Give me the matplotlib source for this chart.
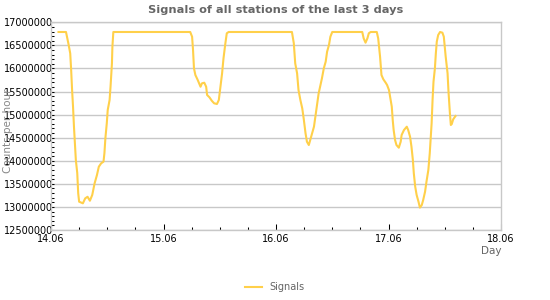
import matplotlib
matplotlib.use('Agg')
import matplotlib.pyplot as plt
from matplotlib.ticker import MultipleLocator, FixedLocator

# hours since 14.06 00:00, counts per hour
hours = [1.6, 3.2, 3.7, 4.1, 4.3, 4.5, 4.7, 4.9, 5.1, 5.3, 5.6, 5.8, 6.0, 6.8, 7.3,
         7.8, 8.3, 8.8, 9.3, 9.8, 10.2, 10.7, 11.2, 11.4, 11.6, 11.9, 12.1, 12.5,
         12.7, 13.0, 13.1, 13.3, 29.7, 30.1, 30.3, 30.5, 30.8, 31.3, 31.6, 31.9,
         32.2, 32.7, 33.1, 33.3, 33.8, 34.3, 34.8, 35.4, 35.8, 36.1, 36.5, 36.8,
         37.2, 37.5, 37.9, 51.4, 51.8, 52.1, 52.5, 52.8, 53.2, 53.6, 53.9, 54.3,
         54.6, 55.0, 55.3, 55.7, 56.1, 56.4, 56.8, 57.1, 57.5, 57.8, 58.2, 58.6,
         58.9, 59.3, 59.6, 60.0, 66.4, 66.7, 67.1, 67.5, 67.8, 68.2, 69.5, 69.8,
         70.2, 70.5, 70.9, 71.4, 71.7, 72.1, 72.4, 72.7, 72.9, 73.1, 73.4, 73.7,
         74.2, 74.6, 74.8, 75.3, 75.9, 76.2, 76.6, 76.9, 77.2, 77.4, 77.7, 78.0,
         78.4, 78.7, 79.1, 79.4, 79.8, 80.1, 80.5, 80.8, 81.0, 81.2, 81.4, 81.6,
         81.9, 82.1, 82.3, 82.6, 83.0, 83.5, 83.8, 84.2, 84.6, 84.8, 85.1, 85.3,
         85.5, 85.8, 86.3]
counts = [16790000, 16790000, 16545000, 16328000, 15967000, 15533000, 15171000,
          14738000, 14380000, 14016000, 13735000, 13300000, 13113000, 13078000,
          13186000, 13220000, 13134000, 13260000, 13510000, 13690000, 13871000,
          13945000, 13980000, 14167000, 14486000, 14812000, 15100000, 15316000,
          15604000, 16110000, 16471000, 16790000, 16790000, 16688000, 16400000,
          16003000, 15858000, 15750000, 15678000, 15604000, 15678000, 15691000,
          15604000, 15425000, 15375000, 15301000, 15245000, 15230000, 15316000,
          15570000, 15895000, 16220000, 16545000, 16762000, 16790000, 16790000,
          16545000, 16110000, 15895000, 15533000, 15316000, 15136000, 14920000,
          14595000, 14413000, 14341000, 14450000, 14595000, 14738000, 14955000,
          15245000, 15461000, 15641000, 15786000, 16003000, 16147000, 16363000,
          16508000, 16688000, 16790000, 16790000, 16653000, 16558000, 16653000,
          16762000, 16790000, 16790000, 16653000, 16256000, 15858000, 15765000,
          15691000, 15641000, 15533000, 15353000, 15171000, 14883000, 14666000,
          14450000, 14341000, 14283000, 14413000, 14558000, 14666000, 14738000,
          14666000, 14521000, 14305000, 14016000, 13728000, 13437000, 13260000,
          13113000, 12985000, 13041000, 13150000, 13330000, 13546000, 13800000,
          14161000, 14486000, 14812000, 15316000, 15713000, 16003000, 16328000,
          16580000, 16725000, 16790000, 16775000, 16688000, 16256000, 15895000,
          15497000, 15028000, 14775000, 14796000, 14898000, 14970000]

day_ticks = [14, 15, 16, 17, 18]
day_labels = ['14.06', '15.06', '16.06', '17.06', '18.06']

days = [14 + h / 24 for h in hours]

fig = plt.figure(figsize=(5.5, 3), dpi=100)
ax = fig.add_axes([51 / 550, 70 / 300, 450 / 550, 207.7 / 300])

ax.plot(days, counts, color='#ffd04a', lw=1.5, label='Signals')

ax.set_xlim(14, 18)
ax.set_ylim(12500000, 17000000)
ax.xaxis.set_major_locator(FixedLocator(day_ticks))
ax.set_xticklabels(day_labels)
ax.xaxis.set_minor_locator(MultipleLocator(0.25))
ax.yaxis.set_major_locator(MultipleLocator(500000))
ax.yaxis.set_minor_locator(MultipleLocator(100000))
ax.yaxis.set_major_formatter(plt.FuncFormatter(lambda v, p: '%d' % v))

ax.tick_params(axis='both', which='both', direction='in', width=0.75, color='black',
               labelsize=7)
ax.tick_params(axis='x', which='major', length=4, pad=3)
ax.tick_params(axis='x', which='minor', length=2.5)
ax.tick_params(axis='y', which='major', length=2.5, pad=-1.5)
ax.tick_params(axis='y', which='minor', length=2.5)

ax.grid(axis='y', which='major', color='#c8c8c8', lw=1)
ax.set_axisbelow(True)
for s in ax.spines.values():
    s.set_color('#c8c8c8')
    s.set_linewidth(1)

ax.set_title('Signals of all stations of the last 3 days', fontsize=8.2,
             fontweight='bold', color='#666666', pad=7)
ax.set_xlabel('Day', loc='right', fontsize=7.5, color='#666666', labelpad=1)
ax.set_ylabel('Counts per hour', fontsize=7.5, color='#888888')
ax.yaxis.set_label_coords(-0.085, 0.48)

fig.legend(loc='center', bbox_to_anchor=(0.5, 13 / 300), frameon=False,
           fontsize=7, labelcolor='#666666', handlelength=1.7)

fig.savefig('out.png', dpi=100)
